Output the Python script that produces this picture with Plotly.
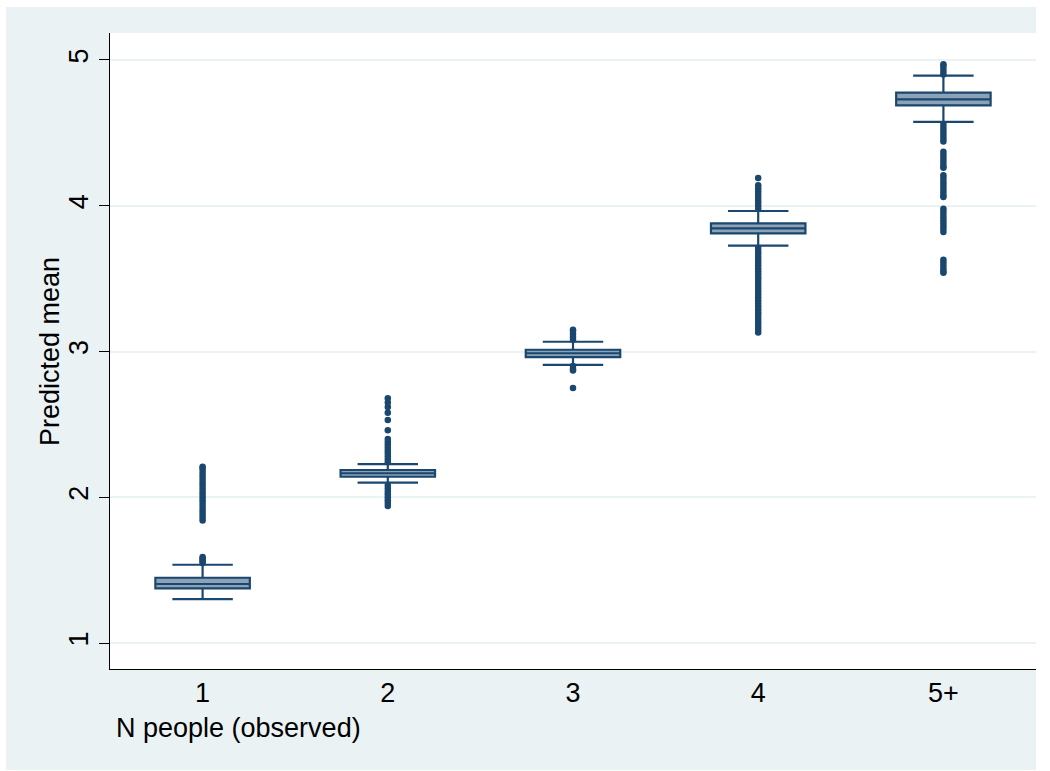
import plotly.graph_objects as go

# ---- data ----
categories = ["1", "2", "3", "4", "5+"]
q1 = [1.375, 2.141, 2.962, 3.811, 4.689]
median = [1.405, 2.165, 2.988, 3.845, 4.730]
q3 = [1.448, 2.187, 3.012, 3.879, 4.776]
lower_whisker = [1.302, 2.100, 2.909, 3.726, 4.575]
upper_whisker = [1.537, 2.228, 3.067, 3.964, 4.892]

outliers_1 = [1.55, 1.56, 1.57, 1.58, 1.59,
              1.84, 1.86, 1.88, 1.90, 1.92, 1.94, 1.96, 1.98, 2.00, 2.02,
              2.04, 2.06, 2.08, 2.10, 2.12, 2.14, 2.16, 2.18, 2.20, 2.21]
outliers_2 = [2.24, 2.26, 2.28, 2.30, 2.32, 2.34, 2.36, 2.38, 2.40,
              2.46, 2.53, 2.58, 2.62, 2.65, 2.68,
              2.08, 2.06, 2.04, 2.02, 2.00, 1.98, 1.96, 1.94]
outliers_3 = [3.08, 3.10, 3.12, 3.14, 3.15,
              2.90, 2.88, 2.87, 2.75]
outliers_4 = [3.98, 4.00, 4.02, 4.04, 4.06, 4.08, 4.10, 4.12, 4.14, 4.19,
              3.71, 3.69, 3.67, 3.65, 3.63, 3.61, 3.59, 3.57, 3.55, 3.53,
              3.51, 3.49, 3.47, 3.45, 3.43, 3.41, 3.39, 3.37, 3.35, 3.33,
              3.31, 3.29, 3.27, 3.25, 3.23, 3.21, 3.19, 3.17, 3.15, 3.13]
outliers_5 = [4.90, 4.92, 4.94, 4.96, 4.97,
              4.56, 4.54, 4.52, 4.50, 4.48, 4.46, 4.44,
              4.37, 4.35, 4.33, 4.31, 4.29, 4.27, 4.26,
              4.21, 4.19, 4.17, 4.15, 4.13, 4.11, 4.09, 4.07, 4.06,
              3.98, 3.96, 3.94, 3.92, 3.90, 3.88, 3.86, 3.84, 3.82,
              3.63, 3.61, 3.59, 3.57, 3.55, 3.54]
outliers = [outliers_1, outliers_2, outliers_3, outliers_4, outliers_5]

y_ticks = [1, 2, 3, 4, 5]
x_title = "N people (observed)"
y_title = "Predicted mean"

# ---- style ----
NAVY = "#1A476F"
BOX_FILL = "#8CA3B7"
REGION = "#EAF2F3"
FONT = "Liberation Sans, Arial, Helvetica, sans-serif"
FS = 27

fig = go.Figure()

fig.add_trace(go.Box(
    x=categories, q1=q1, median=median, q3=q3,
    lowerfence=lower_whisker, upperfence=upper_whisker,
    boxpoints=False, width=0.51, whiskerwidth=0.64,
    fillcolor=BOX_FILL, line=dict(color=NAVY, width=2.2),
    hoverinfo="skip", showlegend=False,
))

ox, oy = [], []
for cat, vals in zip(categories, outliers):
    ox += [cat] * len(vals)
    oy += vals
fig.add_trace(go.Scatter(
    x=ox, y=oy, mode="markers",
    marker=dict(color=NAVY, size=6.5, line=dict(width=0)),
    hoverinfo="skip", showlegend=False,
))

L, R, T, B = 110, 14, 33, 102
W, H = 1050, 771
pw, ph = W - L - R, H - T - B

def px(x):
    return (x - L) / pw

def py(y):
    return (H - B - y) / ph

fig.update_layout(
    width=W, height=H,
    margin=dict(l=L, r=R, t=T, b=B),
    paper_bgcolor=REGION, plot_bgcolor="white",
    font=dict(family=FONT, size=FS, color="black"),
    xaxis=dict(
        type="category", categoryorder="array", categoryarray=categories,
        range=[-0.5, 4.5], showline=True, linecolor="black", linewidth=1,
        ticks="", showgrid=False, zeroline=False,
        tickfont=dict(size=FS),
    ),
    yaxis=dict(
        range=[0.822, 5.185], tickvals=y_ticks, tickangle=-90,
        ticks="outside", ticklen=10, tickwidth=1, tickcolor="black",
        showline=True, linecolor="black", linewidth=1,
        showgrid=True, gridcolor=REGION, gridwidth=2, zeroline=False,
        tickfont=dict(size=FS),
    ),
    shapes=[
        # white outer frame around the graph region
        dict(type="rect", xref="paper", yref="paper", layer="below",
             x0=px(0), x1=px(6), y0=py(H), y1=py(0),
             fillcolor="white", line=dict(width=0)),
        dict(type="rect", xref="paper", yref="paper", layer="below",
             x0=px(0), x1=px(W), y0=py(7), y1=py(0),
             fillcolor="white", line=dict(width=0)),
        dict(type="rect", xref="paper", yref="paper", layer="below",
             x0=px(0), x1=px(W), y0=py(H), y1=py(770),
             fillcolor="white", line=dict(width=0)),
        dict(type="rect", xref="paper", yref="paper", layer="below",
             x0=px(1036), x1=px(W), y0=py(H), y1=py(0),
             fillcolor="white", line=dict(width=0)),
    ],
    annotations=[
        dict(text=x_title, xref="paper", yref="paper", x=px(114), y=py(728),
             xanchor="left", yanchor="middle", showarrow=False,
             font=dict(size=FS)),
        dict(text=y_title, xref="paper", yref="paper", x=px(50), y=0.5,
             xanchor="center", yanchor="middle", textangle=-90,
             showarrow=False, font=dict(size=FS)),
    ],
)

fig.write_html("out.html")
